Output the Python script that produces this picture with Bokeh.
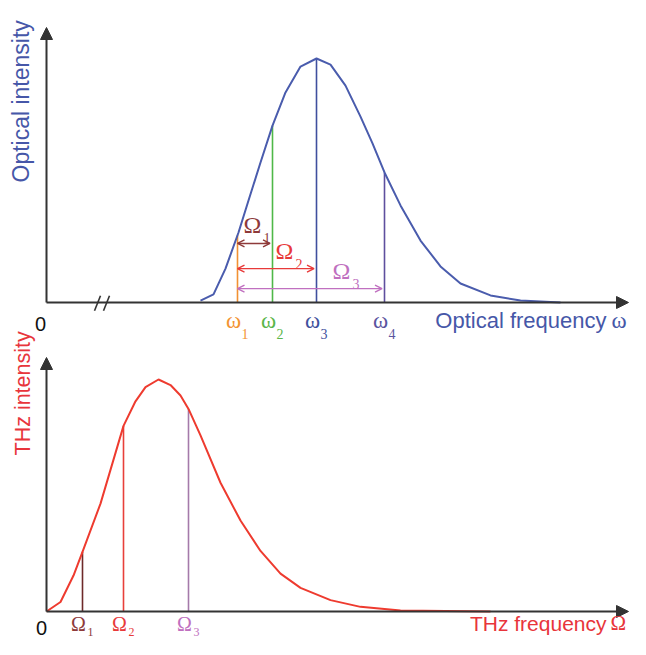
import numpy as np
from bokeh.plotting import figure
from bokeh.models import Range1d, Label, Arrow, NormalHead, OpenHead
from bokeh.embed import file_html
from bokeh.resources import INLINE

# ---------------- data (arbitrary units) ----------------
opt_freq = [30.8, 33.4, 35.8, 38.4, 40.4, 42.8, 45.2, 47.8, 50.8, 54.0, 56.8,
            59.8, 62.8, 65.2, 67.6, 70.8, 74.8, 78.8, 82.8, 88.8, 94.8, 102.8]
opt_int = [0.008, 0.033, 0.139, 0.287, 0.418, 0.574, 0.725, 0.861, 0.967, 1.0, 0.975,
           0.889, 0.762, 0.652, 0.533, 0.398, 0.254, 0.148, 0.078, 0.029, 0.008, 0.0]
omega_pos = [38.2, 45.2, 54.0, 67.6]
omega_sub = ["1", "2", "3", "4"]
Omega_levels = [0.242, 0.139, 0.057]

thz_freq = [0.0, 2.8, 5.4, 7.2, 10.8, 15.4, 17.8, 19.8, 22.4, 24.8, 26.8, 28.4,
            30.8, 34.8, 38.8, 42.8, 46.8, 50.8, 56.8, 62.8, 70.8, 88.8]
thz_int = [0.0, 0.041, 0.155, 0.257, 0.465, 0.8, 0.906, 0.967, 1.0, 0.976, 0.931, 0.873,
           0.759, 0.555, 0.392, 0.261, 0.163, 0.102, 0.049, 0.020, 0.004, 0.0]
Omega_pos = [7.2, 15.4, 28.4]
Omega_sub = ["1", "2", "3"]

# ---------------- styles ----------------
W, H = 630, 639
SANS = "Liberation Sans"
SERIF = "Liberation Serif"
DESC = 0.215  # descent fraction used to turn a wanted baseline into a box bottom
AXIS_C = "#333333"
OPT_C = "#4a5cad"
OPT_TXT = "#4657a8"
THZ_C = "#ee3b2f"
THZ_TXT = "#e8353b"
omega_line_c = ["#f29132", "#4fb848", "#3f4f9e", "#5e4f9e"]
omega_txt_c = ["#f39433", "#5bb64a", "#41519d", "#5b55a0"]
Omega_c = ["#8e3a3a", "#e83a3a", "#c070c0"]
Omega_line_c = ["#6e2a2a", "#e8403a", "#a57aaa"]

p = figure(width=W, height=H, x_range=Range1d(-9.2, 116.8),
           y_range=Range1d(-1.3811, 1.2377),
           x_axis_location=None, y_axis_location=None,
           toolbar_location=None, output_backend="svg", min_border=0)
p.extra_x_ranges = {"thz": Range1d(-9.2, 116.8)}
p.extra_y_ranges = {"thz": Range1d(-0.1207, 2.6336)}
p.outline_line_color = None
p.grid.visible = False
p.background_fill_color = "white"
p.border_fill_color = "white"


def sy(py):
    return H - py


def txt(text, px, py, color, size, font, align="left"):
    """Horizontal text with its baseline at pixel row py."""
    p.add_layout(Label(x=px, y=sy(py + DESC * size), x_units="screen", y_units="screen",
                       text=text, text_color=color, text_font_size=f"{size}px",
                       text_font=font, text_align=align, text_baseline="bottom"))


def vtxt(text, px, py, color, size, font):
    """Text rotated 90 deg, starting at row py, baseline at column px."""
    p.add_layout(Label(x=px + DESC * size, y=sy(py), x_units="screen", y_units="screen",
                       text=text, text_color=color, text_font_size=f"{size}px",
                       text_font=font, text_align="left", text_baseline="bottom",
                       angle=np.pi / 2))


def tick_txt(text, xv, py, color, size, xoff, align, rn="default"):
    p.add_layout(Label(x=xv, y=sy(py + DESC * size), x_units="data", y_units="screen",
                       x_range_name=rn, x_offset=xoff, text=text, text_color=color,
                       text_font_size=f"{size}px", text_font=SERIF,
                       text_align=align, text_baseline="bottom"))


def axis_arrow(x0, y0, x1, y1, rn="default"):
    p.add_layout(Arrow(x_start=x0, y_start=y0, x_end=x1, y_end=y1,
                       line_color=AXIS_C, line_width=2,
                       end=NormalHead(size=12, fill_color=AXIS_C, line_color=AXIS_C),
                       x_range_name=rn, y_range_name=rn))


# ---------------- top panel: optical ----------------
X_END = 116.4
axis_arrow(0, 0, X_END, 0)
axis_arrow(0, 0, 0, 1.127)

# axis break "//"
BREAK_X = 11.1
for c in (BREAK_X - 0.9, BREAK_X + 0.9):
    p.segment(x0=[c - 0.6], y0=[-0.034], x1=[c + 0.6], y1=[0.028],
              line_color=AXIS_C, line_width=1.6)

omega_h = np.interp(omega_pos, opt_freq, opt_int)
for w, h, c in zip(omega_pos, omega_h, omega_line_c):
    p.segment(x0=[w], y0=[0], x1=[w], y1=[h], line_color=c, line_width=1.6)

p.line(opt_freq, opt_int, line_color=OPT_C, line_width=2)

# difference arrows Omega_k = omega_{k+1} - omega_1
for k, (lvl, c) in enumerate(zip(Omega_levels, Omega_c)):
    p.add_layout(Arrow(x_start=omega_pos[0], y_start=lvl,
                       x_end=omega_pos[k + 1] - 0.5, y_end=lvl,
                       line_color=c, line_width=1.4,
                       start=OpenHead(size=7, line_color=c, line_width=1.4),
                       end=OpenHead(size=7, line_color=c, line_width=1.4)))

Om_lab_xy = [(243, 232), (275, 258), (332, 278)]
for (lx, ly), s, c in zip(Om_lab_xy, Omega_sub, Omega_c):
    txt("\u03A9", lx, ly, c, 24, SERIF)
    txt(s, lx + 20, ly + 7, c, 14, SERIF)

for w, s, c in zip(omega_pos, omega_sub, omega_txt_c):
    tick_txt("\u03C9", w, 328, c, 23, -4, "center")
    tick_txt(s, w, 335, c, 14, 4, "left")

txt("0", 40, 326, "#111111", 20, SANS, align="center")
txt("Optical frequency", 606, 328, OPT_TXT, 22, SANS, align="right")
txt("\u03C9", 611, 328, OPT_TXT, 23, SERIF)
vtxt("Optical intensity", 29, 182, OPT_TXT, 23, SANS)

# ---------------- bottom panel: THz ----------------
axis_arrow(0, 0, X_END, 0, "thz")
axis_arrow(0, 0, 0, 1.0948, "thz")

Omega_h = np.interp(Omega_pos, thz_freq, thz_int)
for w, h, c in zip(Omega_pos, Omega_h, Omega_line_c):
    p.segment(x0=[w], y0=[0], x1=[w], y1=[h], line_color=c, line_width=1.6,
              x_range_name="thz", y_range_name="thz")

p.line(thz_freq, thz_int, line_color=THZ_C, line_width=2,
       x_range_name="thz", y_range_name="thz")

for w, s, c in zip(Omega_pos, Omega_sub, Omega_c):
    tick_txt("\u03A9", w, 630, c, 20, -4, "center", "thz")
    tick_txt(s, w, 633, c, 12, 5, "left", "thz")

txt("0", 41, 630, "#111111", 20, SANS, align="center")
txt("THz frequency", 606, 630, THZ_TXT, 21, SANS, align="right")
txt("\u03A9", 610, 630, THZ_TXT, 21, SERIF)
vtxt("THz intensity", 30, 455, THZ_TXT, 21.5, SANS)

open("out.html", "w").write(file_html(p, INLINE))
